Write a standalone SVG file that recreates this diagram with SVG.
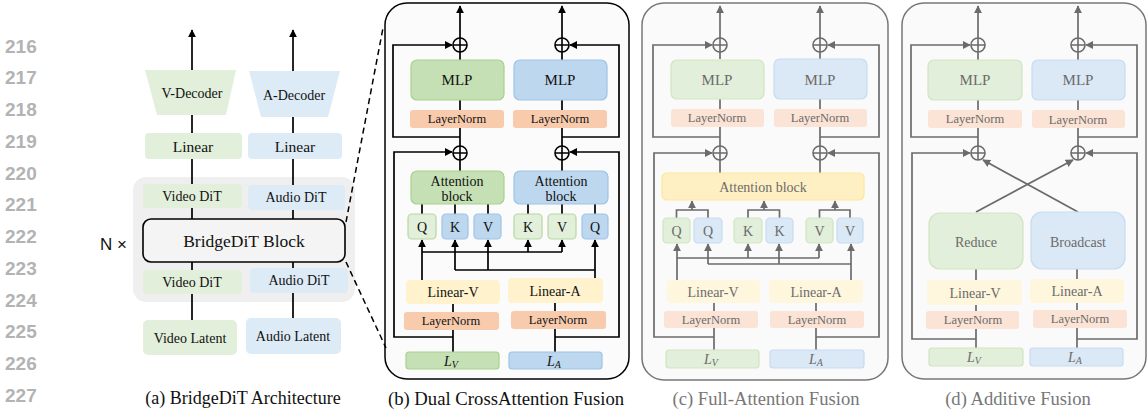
<svg xmlns="http://www.w3.org/2000/svg" width="1148" height="415" viewBox="0 0 1148 415" font-family="'Liberation Serif', 'DejaVu Serif', serif">
<style>
text{font-family:'Liberation Serif','DejaVu Serif',serif;text-anchor:middle;dominant-baseline:central;fill:#111}
.ln{font-family:'Liberation Sans',Arial,sans-serif;font-weight:bold;font-size:19px;fill:#b3b3b3;text-anchor:start;dominant-baseline:alphabetic}
.nx{font-family:'Liberation Sans',Arial,sans-serif;font-size:17px;text-anchor:end;dominant-baseline:alphabetic}
.cap{font-size:18px;dominant-baseline:alphabetic}
.capb{font-size:18.7px;dominant-baseline:alphabetic}
.capg{font-size:18.6px;dominant-baseline:alphabetic;fill:#777}
.g text{fill:#6b6b6b}
.k{fill:none;stroke:#000;stroke-width:1.7}
.kg{fill:none;stroke:#6b6b6b;stroke-width:1.7}
.ka{fill:none;stroke:#000;stroke-width:1.7;marker-end:url(#ah)}
.kga{fill:none;stroke:#6b6b6b;stroke-width:1.7;marker-end:url(#ahg)}
.aG{fill:#e2efda}.aB{fill:#ddebf7}
.bG{fill:#c5e0b4;stroke:#a9d18e;stroke-width:1.2}
.bB{fill:#bdd7ee;stroke:#9dc3e6;stroke-width:1.2}
.bGl{fill:#e2efda;stroke:#b6d7a0;stroke-width:1.2}
.bLN{fill:#f8cbad}
.bLin{fill:#fff2cc}
.cG{fill:#e2efda;stroke:#cfe5c1;stroke-width:1.2}
.cB{fill:#dbe8f6;stroke:#c5dcf0;stroke-width:1.2}
.cLN{fill:#fbe3d5}
.cLin{fill:#fff6de}
.cAtt{fill:#fff0c4;stroke:#ffe699;stroke-width:1.2}
.plus{fill:none;stroke:#000;stroke-width:1.6}
.plusg{fill:none;stroke:#6b6b6b;stroke-width:1.6}
</style>
<defs>
<marker id="ah" viewBox="0 0 10 10" refX="9" refY="5" markerWidth="8" markerHeight="8" markerUnits="userSpaceOnUse" orient="auto"><path d="M0,0 L10,5 L0,10 z" fill="#000"/></marker>
<marker id="ahg" viewBox="0 0 10 10" refX="9" refY="5" markerWidth="8" markerHeight="8" markerUnits="userSpaceOnUse" orient="auto"><path d="M0,0 L10,5 L0,10 z" fill="#6b6b6b"/></marker>
</defs>

<g id="line-numbers">
<text class="ln" x="5" y="52.5">216</text>
<text class="ln" x="5" y="84.3">217</text>
<text class="ln" x="5" y="116">218</text>
<text class="ln" x="5" y="147.8">219</text>
<text class="ln" x="5" y="179.5">220</text>
<text class="ln" x="5" y="211.3">221</text>
<text class="ln" x="5" y="243">222</text>
<text class="ln" x="5" y="274.8">223</text>
<text class="ln" x="5" y="306.5">224</text>
<text class="ln" x="5" y="338.3">225</text>
<text class="ln" x="5" y="370">226</text>
<text class="ln" x="5" y="401.8">227</text>
</g>

<!-- panel backgrounds -->
<rect x="133" y="177" width="222" height="125" rx="13" fill="#efefef"/>
<rect x="385" y="3" width="244" height="376" rx="22" fill="#fbfbfb" stroke="#000" stroke-width="1.5"/>
<rect x="642" y="3" width="246" height="377" rx="22" fill="#fafafa" stroke="#777" stroke-width="1.5"/>
<rect x="902" y="3" width="244" height="376" rx="22" fill="#fafafa" stroke="#777" stroke-width="1.5"/>

<g id="connectors">
<!-- panel a -->
<path class="ka" d="M192,70 L192,30"/>
<path class="ka" d="M293,71 L293,30"/>
<path class="k" d="M192,115 L192,133 M293,117 L293,133 M192,159 L192,184 M293,159 L293,185 M192,208 L192,219 M293,210 L293,219 M192,262 L192,270 M293,262 L293,268 M192,294 L192,320 M293,293 L293,318"/>
<path d="M346,222 L383,28 M346,262 L386,348" fill="none" stroke="#000" stroke-width="1.5" stroke-dasharray="6 4"/>
<!-- panel b -->
<path class="ka" d="M460,38 L460,6"/>
<path class="ka" d="M562,38 L562,6"/>
<path class="k" d="M460,60 L460,52 M562,60 L562,52 M460,110 L460,100 M562,110 L562,100 M460,146 L460,128 M562,146 L562,128 M460,171 L460,160 M562,171 L562,160"/>
<path class="ka" d="M460,137 L393,137 L393,45 L452,45"/>
<path class="ka" d="M562,137 L619,137 L619,45 L570,45"/>
<path class="ka" d="M453,337 L394,337 L394,152 L452,152"/>
<path class="ka" d="M555,337 L619,337 L619,152 L570,152"/>
<path class="k" d="M422,204 L422,214 M455,204 L455,214 M488,204 L488,214 M528,204 L528,214 M562,204 L562,214 M595,204 L595,214"/>
<path class="ka" d="M422,280 L422,240"/>
<path class="k" d="M422,252 L562,252"/>
<path class="ka" d="M528,252 L528,240"/>
<path class="ka" d="M562,252 L562,240"/>
<path class="ka" d="M595,279 L595,240"/>
<path class="k" d="M455,270 L595,270"/>
<path class="ka" d="M455,270 L455,240"/>
<path class="ka" d="M488,270 L488,240"/>
<path class="k" d="M453,304 L453,312 M555,303 L555,311 M453,330 L453,352 M555,329 L555,352"/>
<!-- panel c -->
<path class="kga" d="M720,38 L720,6"/>
<path class="kga" d="M820,38 L820,6"/>
<path class="kg" d="M720,59 L720,52 M820,59 L820,52 M720,109 L720,99 M820,109 L820,99 M720,146 L720,127 M820,146 L820,127 M720,173 L720,160 M820,173 L820,160"/>
<path class="kga" d="M720,137 L653,137 L653,45 L712,45"/>
<path class="kga" d="M820,137 L879,137 L879,45 L828,45"/>
<path class="kga" d="M714,337 L654,337 L654,153 L712,153"/>
<path class="kga" d="M816,337 L879,337 L879,153 L828,153"/>
<path class="kg" d="M676.5,218 L676.5,210 L708,210 L708,218 M748,218 L748,210 L779.5,210 L779.5,218 M819.5,218 L819.5,210 L850,210 L850,218"/>
<path class="kga" d="M692,210 L692,201"/>
<path class="kga" d="M764,210 L764,201"/>
<path class="kga" d="M835,210 L835,201"/>
<path class="kga" d="M677,280 L677,244"/>
<path class="kg" d="M677,258 L819,258"/>
<path class="kga" d="M748,258 L748,244"/>
<path class="kga" d="M819,258 L819,244"/>
<path class="kga" d="M851,280 L851,244"/>
<path class="kg" d="M708,264 L851,264"/>
<path class="kga" d="M708,264 L708,244"/>
<path class="kga" d="M779,264 L779,244"/>
<path class="kg" d="M714,303 L714,311 M816,303 L816,311 M714,328 L714,350 M816,328 L816,350"/>
<!-- panel d -->
<path class="kga" d="M978,38 L978,6"/>
<path class="kga" d="M1078,38 L1078,6"/>
<path class="kg" d="M978,60 L978,52 M1078,60 L1078,52 M978,110 L978,100 M1078,110 L1078,100 M978,146 L978,128 M1078,146 L1078,128"/>
<path class="kga" d="M978,137 L911,137 L911,45 L970,45"/>
<path class="kga" d="M1078,137 L1137,137 L1137,45 L1086,45"/>
<path class="kga" d="M976,339 L912,339 L912,153 L970,153"/>
<path class="kga" d="M1077,339 L1137,339 L1137,153 L1086,153"/>
<path class="kga" d="M976,212 L1073,160"/>
<path class="kga" d="M1078,212 L983,160"/>
<path class="kg" d="M976,269 L976,280 M1077,269 L1077,279 M976,305 L976,311 M1077,303 L1077,310 M976,329 L976,348 M1077,328 L1077,348"/>
</g>

<!-- plus nodes -->
<g id="plus-b">
<circle class="plus" cx="460" cy="45" r="7"/><path class="plus" d="M453,45 H467 M460,38 V52"/>
<circle class="plus" cx="562" cy="45" r="7"/><path class="plus" d="M555,45 H569 M562,38 V52"/>
<circle class="plus" cx="460" cy="153" r="7"/><path class="plus" d="M453,153 H467 M460,146 V160"/>
<circle class="plus" cx="562" cy="153" r="7"/><path class="plus" d="M555,153 H569 M562,146 V160"/>
</g>
<g id="plus-c">
<circle class="plusg" cx="720" cy="45" r="7"/><path class="plusg" d="M713,45 H727 M720,38 V52"/>
<circle class="plusg" cx="820" cy="45" r="7"/><path class="plusg" d="M813,45 H827 M820,38 V52"/>
<circle class="plusg" cx="720" cy="153" r="7"/><path class="plusg" d="M713,153 H727 M720,146 V160"/>
<circle class="plusg" cx="820" cy="153" r="7"/><path class="plusg" d="M813,153 H827 M820,146 V160"/>
</g>
<g id="plus-d">
<circle class="plusg" cx="978" cy="45" r="7"/><path class="plusg" d="M971,45 H985 M978,38 V52"/>
<circle class="plusg" cx="1078" cy="45" r="7"/><path class="plusg" d="M1071,45 H1085 M1078,38 V52"/>
<circle class="plusg" cx="978" cy="153" r="7"/><path class="plusg" d="M971,153 H985 M978,146 V160"/>
<circle class="plusg" cx="1078" cy="153" r="7"/><path class="plusg" d="M1071,153 H1085 M1078,146 V160"/>
</g>

<!-- panel a nodes -->
<g id="a-vdec"><path class="aG" d="M145,70 L236,70 L226,115 L157,115 Z"/><text x="192" y="93" font-size="14">V-Decoder</text></g>
<g id="a-adec"><path class="aB" d="M249,71 L340,71 L328,117 L261,117 Z"/><text x="294" y="95" font-size="14">A-Decoder</text></g>
<g id="a-vlin"><rect class="aG" x="145" y="133" width="97" height="26" rx="4"/><text x="193" y="146" font-size="15.5">Linear</text></g>
<g id="a-alin"><rect class="aB" x="248" y="133" width="94" height="26" rx="4"/><text x="295" y="146" font-size="15.5">Linear</text></g>
<g id="a-vdit1"><rect class="aG" x="143" y="184" width="99" height="24" rx="4"/><text x="192" y="196" font-size="14">Video DiT</text></g>
<g id="a-adit1"><rect class="aB" x="248" y="185" width="97" height="25" rx="4"/><text x="296" y="197" font-size="14">Audio DiT</text></g>
<g id="a-bridge"><rect x="143" y="219" width="202" height="43" rx="8" fill="#f4f4f4" stroke="#000" stroke-width="1.6"/><text x="244" y="241" font-size="17.5">BridgeDiT Block</text></g>
<g id="a-vdit2"><rect class="aG" x="143" y="270" width="99" height="24" rx="4"/><text x="192" y="282" font-size="14">Video DiT</text></g>
<g id="a-adit2"><rect class="aB" x="250" y="268" width="98" height="25" rx="4"/><text x="299" y="280" font-size="14">Audio DiT</text></g>
<g id="a-vlat"><rect class="aG" x="143" y="320" width="94" height="35" rx="5"/><text x="190" y="338" font-size="14">Video Latent</text></g>
<g id="a-alat"><rect class="aB" x="246" y="318" width="95" height="36" rx="5"/><text x="293" y="336" font-size="14">Audio Latent</text></g>
<text class="nx" x="127" y="250">N ×</text>
<text class="cap" x="243" y="404">(a) BridgeDiT Architecture</text>

<!-- panel b nodes -->
<g id="b-mlp-v"><rect class="bG" x="411" y="60" width="93" height="40" rx="6"/><text x="457" y="80" font-size="15">MLP</text></g>
<g id="b-mlp-a"><rect class="bB" x="514" y="60" width="93" height="40" rx="6"/><text x="560" y="80" font-size="15">MLP</text></g>
<g id="b-ln1-v"><rect class="bLN" x="410" y="110" width="94" height="18" rx="3"/><text x="457" y="119" font-size="12.5">LayerNorm</text></g>
<g id="b-ln1-a"><rect class="bLN" x="513" y="110" width="94" height="18" rx="3"/><text x="560" y="119" font-size="12.5">LayerNorm</text></g>
<g id="b-att-v"><rect class="bG" x="411" y="171" width="93" height="33" rx="6"/><text x="457" y="181" font-size="14">Attention</text><text x="457" y="196" font-size="14">block</text></g>
<g id="b-att-a"><rect class="bB" x="514" y="171" width="94" height="33" rx="6"/><text x="561" y="181" font-size="14">Attention</text><text x="561" y="196" font-size="14">block</text></g>
<g id="b-q1"><rect class="bGl" x="408" y="214" width="28" height="25" rx="4"/><text x="422" y="227" font-size="14">Q</text></g>
<g id="b-k1"><rect class="bB" x="442" y="214" width="26" height="25" rx="4"/><text x="455" y="227" font-size="14">K</text></g>
<g id="b-v1"><rect class="bB" x="474" y="214" width="27" height="25" rx="4"/><text x="488" y="227" font-size="14">V</text></g>
<g id="b-k2"><rect class="bGl" x="514" y="214" width="28" height="25" rx="4"/><text x="528" y="227" font-size="14">K</text></g>
<g id="b-v2"><rect class="bGl" x="548" y="214" width="28" height="25" rx="4"/><text x="562" y="227" font-size="14">V</text></g>
<g id="b-q2"><rect class="bB" x="582" y="214" width="26" height="25" rx="4"/><text x="595" y="227" font-size="14">Q</text></g>
<g id="b-lin-v"><rect class="bLin" x="406" y="280" width="94" height="24" rx="4"/><text x="453" y="292" font-size="14">Linear-V</text></g>
<g id="b-lin-a"><rect class="bLin" x="508" y="278" width="95" height="25" rx="4"/><text x="555" y="291" font-size="14">Linear-A</text></g>
<g id="b-ln2-v"><rect class="bLN" x="404" y="312" width="95" height="18" rx="3"/><text x="451" y="321" font-size="12.5">LayerNorm</text></g>
<g id="b-ln2-a"><rect class="bLN" x="511" y="311" width="95" height="18" rx="3"/><text x="558" y="320" font-size="12.5">LayerNorm</text></g>
<g id="b-lv"><rect class="bG" x="406" y="352" width="93" height="17" rx="3"/><text x="451" y="361" font-size="14" font-style="italic">L<tspan font-size="10" dy="3">V</tspan></text></g>
<g id="b-la"><rect class="bB" x="509" y="352" width="93" height="17" rx="3"/><text x="554" y="361" font-size="14" font-style="italic">L<tspan font-size="10" dy="3">A</tspan></text></g>
<text class="capb" x="506" y="405">(b) Dual CrossAttention Fusion</text>

<!-- panel c nodes -->
<g class="g">
<g id="c-mlp-v"><rect class="cG" x="671" y="60" width="93" height="39" rx="6"/><text x="717" y="80" font-size="15">MLP</text></g>
<g id="c-mlp-a"><rect class="cB" x="774" y="59" width="93" height="40" rx="6"/><text x="820" y="80" font-size="15">MLP</text></g>
<g id="c-ln1-v"><rect class="cLN" x="671" y="109" width="93" height="18" rx="3"/><text x="717" y="118" font-size="12.5">LayerNorm</text></g>
<g id="c-ln1-a"><rect class="cLN" x="774" y="109" width="93" height="18" rx="3"/><text x="820" y="118" font-size="12.5">LayerNorm</text></g>
<g id="c-att"><rect class="cAtt" x="662" y="173" width="202" height="27" rx="5"/><text x="763" y="187" font-size="14">Attention block</text></g>
<g id="c-q1"><rect class="cG" x="663" y="218" width="27" height="25" rx="4"/><text x="676.5" y="231" font-size="14">Q</text></g>
<g id="c-q2"><rect class="cB" x="694" y="218" width="28" height="25" rx="4"/><text x="708" y="231" font-size="14">Q</text></g>
<g id="c-k1"><rect class="cG" x="734" y="218" width="28" height="25" rx="4"/><text x="748" y="231" font-size="14">K</text></g>
<g id="c-k2"><rect class="cB" x="766" y="218" width="27" height="25" rx="4"/><text x="779.5" y="231" font-size="14">K</text></g>
<g id="c-v1"><rect class="cG" x="806" y="218" width="27" height="25" rx="4"/><text x="819.5" y="231" font-size="14">V</text></g>
<g id="c-v2"><rect class="cB" x="837" y="218" width="26" height="25" rx="4"/><text x="850" y="231" font-size="14">V</text></g>
<g id="c-lin-v"><rect class="cLin" x="667" y="280" width="93" height="23" rx="4"/><text x="713" y="292" font-size="14">Linear-V</text></g>
<g id="c-lin-a"><rect class="cLin" x="769" y="280" width="94" height="23" rx="4"/><text x="816" y="292" font-size="14">Linear-A</text></g>
<g id="c-ln2-v"><rect class="cLN" x="664" y="311" width="94" height="17" rx="3"/><text x="711" y="320" font-size="12.5">LayerNorm</text></g>
<g id="c-ln2-a"><rect class="cLN" x="770" y="311" width="94" height="17" rx="3"/><text x="817" y="320" font-size="12.5">LayerNorm</text></g>
<g id="c-lv"><rect class="cG" x="666" y="350" width="93" height="18" rx="3"/><text x="711" y="359" font-size="14" font-style="italic">L<tspan font-size="10" dy="3">V</tspan></text></g>
<g id="c-la"><rect class="cB" x="770" y="350" width="94" height="18" rx="3"/><text x="816" y="359" font-size="14" font-style="italic">L<tspan font-size="10" dy="3">A</tspan></text></g>
</g>
<text class="capg" x="766" y="405">(c) Full-Attention Fusion</text>

<!-- panel d nodes -->
<g class="g">
<g id="d-mlp-v"><rect class="cG" x="928" y="60" width="94" height="40" rx="6"/><text x="975" y="80" font-size="15">MLP</text></g>
<g id="d-mlp-a"><rect class="cB" x="1032" y="60" width="93" height="40" rx="6"/><text x="1078" y="80" font-size="15">MLP</text></g>
<g id="d-ln1-v"><rect class="cLN" x="928" y="110" width="94" height="18" rx="3"/><text x="975" y="119" font-size="12.5">LayerNorm</text></g>
<g id="d-ln1-a"><rect class="cLN" x="1032" y="110" width="93" height="18" rx="3"/><text x="1078" y="120" font-size="12.5">LayerNorm</text></g>
<g id="d-reduce"><rect class="cG" x="929" y="213" width="94" height="56" rx="11"/><text x="976" y="242" font-size="14">Reduce</text></g>
<g id="d-broad"><rect class="cB" x="1031" y="212" width="94" height="57" rx="11"/><text x="1078" y="242" font-size="14">Broadcast</text></g>
<g id="d-lin-v"><rect class="cLin" x="927" y="280" width="95" height="25" rx="4"/><text x="975" y="293" font-size="14">Linear-V</text></g>
<g id="d-lin-a"><rect class="cLin" x="1030" y="279" width="94" height="24" rx="4"/><text x="1077" y="291" font-size="14">Linear-A</text></g>
<g id="d-ln2-v"><rect class="cLN" x="926" y="311" width="93" height="18" rx="3"/><text x="973" y="320" font-size="12.5">LayerNorm</text></g>
<g id="d-ln2-a"><rect class="cLN" x="1033" y="310" width="94" height="18" rx="3"/><text x="1080" y="319" font-size="12.5">LayerNorm</text></g>
<g id="d-lv"><rect class="cG" x="929" y="348" width="94" height="18" rx="3"/><text x="974" y="357" font-size="14" font-style="italic">L<tspan font-size="10" dy="3">V</tspan></text></g>
<g id="d-la"><rect class="cB" x="1030" y="348" width="93" height="18" rx="3"/><text x="1075" y="357" font-size="14" font-style="italic">L<tspan font-size="10" dy="3">A</tspan></text></g>
</g>
<text class="capg" x="1018" y="405">(d) Additive Fusion</text>
</svg>
